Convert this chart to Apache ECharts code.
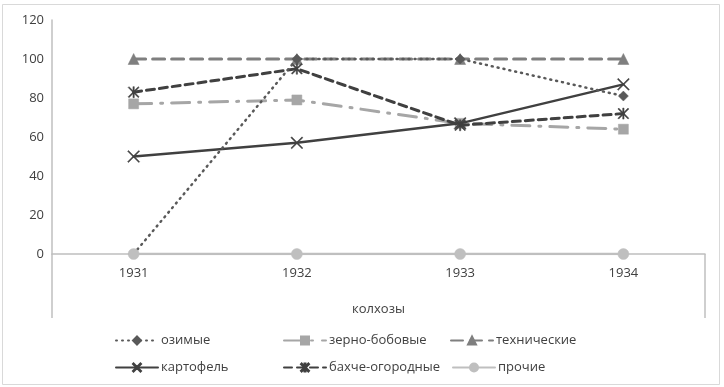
<!DOCTYPE html>
<html>
<head>
<meta charset="utf-8">
<script src="https://cdn.jsdelivr.net/npm/echarts@6/dist/echarts.min.js"></script>
<style>html,body{margin:0;padding:0;background:#fff}#c{width:724px;height:387px}</style>
</head>
<body>
<div id="c"></div>
<script>
const categories = ['1931', '1932', '1933', '1934'];
const yTicks = [0, 20, 40, 60, 80, 100, 120];
const ozimye = [0, 100, 100, 81];
const zernoBobovye = [77, 79, 67, 64];
const tehnicheskie = [100, 100, 100, 100];
const kartofel = [50, 57, 67, 87];
const bahcheOgorodnye = [83, 95, 66, 72];
const prochie = [0, 0, 0, 0];
const names = ['озимые', 'зерно-бобовые', 'технические', 'картофель', 'бахче-огородные', 'прочие'];

const FONT = '"Open Sans", "Noto Sans", sans-serif';
const xPath = 'path://M0,0.7L0.7,0L5,4.3L9.3,0L10,0.7L5.7,5L10,9.3L9.3,10L5,5.7L0.7,10L0,9.3L4.3,5Z';
const starPath = 'path://M0,0.8L0.8,0L5,4.2L9.2,0L10,0.8L5.8,5L10,9.2L9.2,10L5,5.8L0.8,10L0,9.2L4.2,5Z M4.4,0L5.6,0L5.6,10L4.4,10Z';

function mk(name, data, color, width, type, symbol, size, z) {
  return {
    name: name, type: 'line', data: data, z: z,
    symbol: symbol, symbolSize: size, showSymbol: true,
    lineStyle: { color: color, width: width, type: type, cap: 'round' },
    itemStyle: { color: color, borderColor: color, borderWidth: 0.5 },
    emphasis: { disabled: true }, animation: false
  };
}

const series = [
  mk(names[0], ozimye, '#595959', 2.5, [1, 5], 'diamond', 10, 6),
  mk(names[1], zernoBobovye, '#a6a6a6', 3, [18, 9, 2, 9], 'rect', 10, 3),
  mk(names[2], tehnicheskie, '#7f7f7f', 3, [12, 7], 'triangle', 11, 2),
  mk(names[3], kartofel, '#404040', 2.5, 'solid', xPath, 12, 5),
  mk(names[4], bahcheOgorodnye, '#404040', 3, [8, 5], starPath, 11, 4),
  mk(names[5], prochie, '#bfbfbf', 2.5, 'solid', 'circle', 11, 7)
];

function lg(name, left, top) {
  return {
    data: [name], left: left, top: top, itemWidth: 42, itemHeight: 10, itemGap: 0,
    padding: 0, selectedMode: false,
    textStyle: { fontFamily: FONT, fontSize: 13, color: '#404040', padding: [0, 0, 0, -2] }
  };
}

const chart = echarts.init(document.getElementById('c'), null, { renderer: 'canvas' });
chart.setOption({
  animation: false,
  backgroundColor: '#fff',
  grid: { left: 52, right: 19, top: 20, bottom: 133, containLabel: false },
  xAxis: {
    type: 'category', data: categories, boundaryGap: true,
    axisLine: { show: true, lineStyle: { color: '#bfbfbf', width: 1.5 } },
    axisTick: { show: false },
    axisLabel: { fontFamily: FONT, fontSize: 13, color: '#404040', margin: 13 },
    name: 'колхозы', nameLocation: 'middle', nameGap: 49,
    nameTextStyle: { fontFamily: FONT, fontSize: 13, color: '#404040' }
  },
  yAxis: {
    type: 'value', min: yTicks[0], max: yTicks[yTicks.length - 1], interval: 20,
    axisLine: { show: true, lineStyle: { color: '#bfbfbf', width: 1.5 } },
    axisTick: { show: false },
    splitLine: { show: false },
    axisLabel: { fontFamily: FONT, fontSize: 13, color: '#404040', margin: 8 }
  },
  legend: [
    lg(names[0], 115, 334), lg(names[1], 283, 334), lg(names[2], 450, 334),
    lg(names[3], 115, 361), lg(names[4], 283, 361), lg(names[5], 452, 361)
  ],
  graphic: [
    { type: 'rect', shape: { x: 2.5, y: 4.5, width: 717, height: 380 }, style: { fill: 'none', stroke: '#d9d9d9', lineWidth: 1 }, silent: true },
    { type: 'line', shape: { x1: 52, y1: 254, x2: 52, y2: 318 }, style: { stroke: '#bfbfbf', lineWidth: 1.5 }, silent: true },
    { type: 'line', shape: { x1: 705, y1: 254, x2: 705, y2: 318 }, style: { stroke: '#bfbfbf', lineWidth: 1.5 }, silent: true }
  ],
  series: series
});
</script>
</body>
</html>
